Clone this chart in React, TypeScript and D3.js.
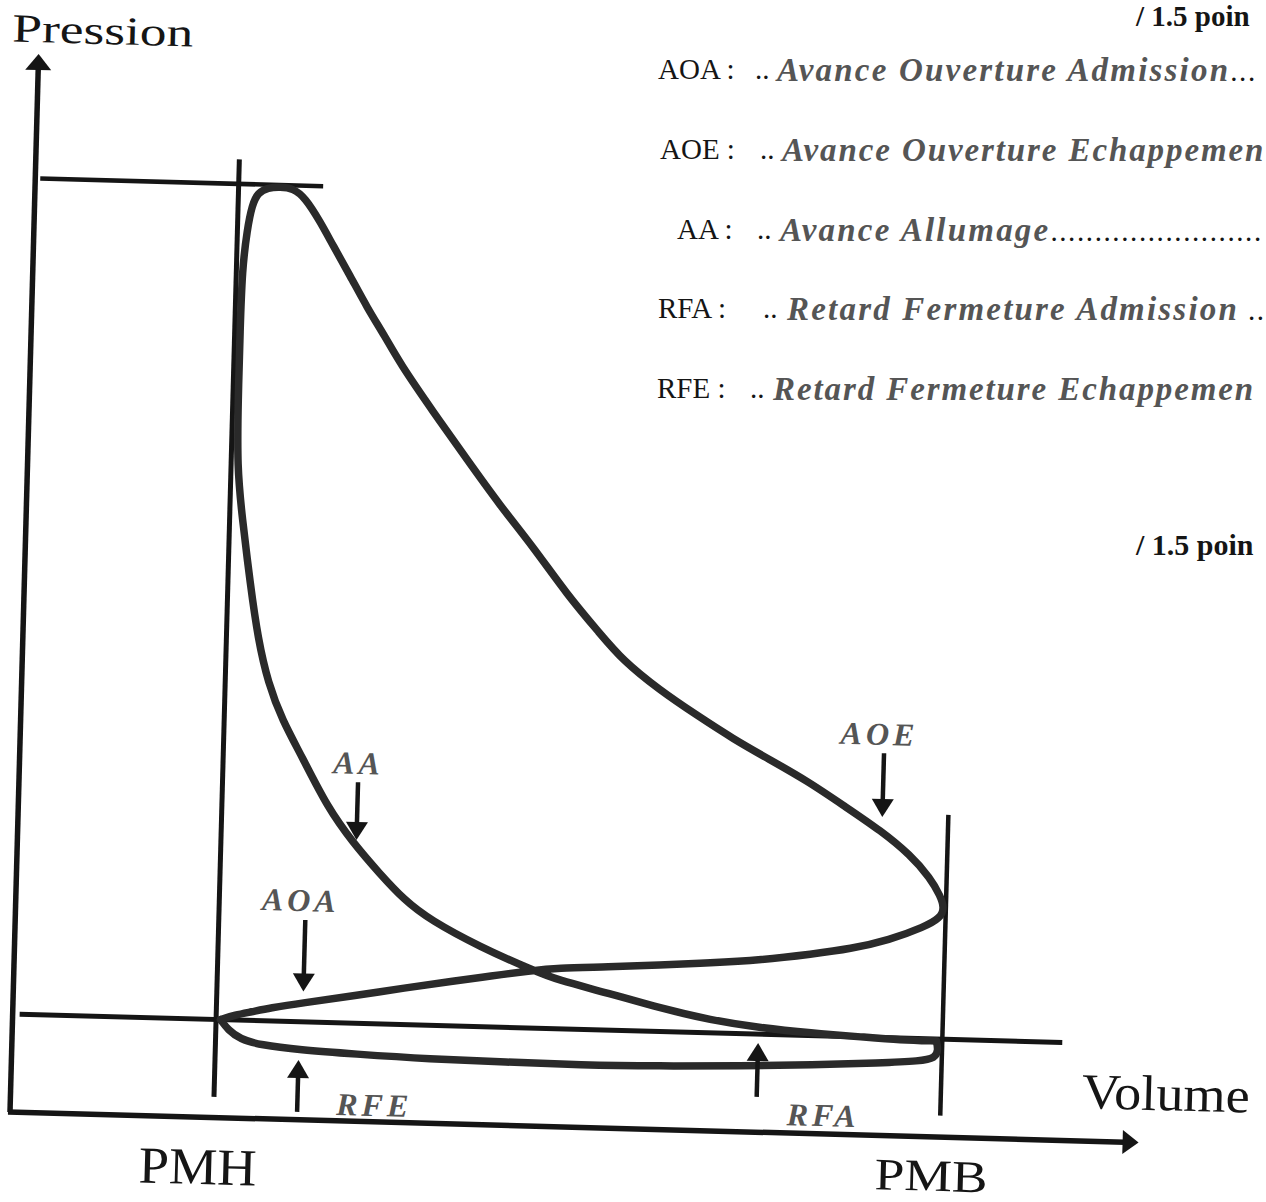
import React from "react";
import * as d3 from "d3";

// ---- Data (volume in arbitrary units, pressure in bar) ----
type Pt = [number, number];

const intake: Pt[] = [
  [20.8, 1.0], [21.58, 0.897], [22.8, 0.808], [24.82, 0.753], [28.83, 0.713], [34.14, 0.687],
  [41.86, 0.656], [49.47, 0.647], [56.87, 0.637], [64.78, 0.648], [72.88, 0.671], [80.07, 0.701],
  [86.87, 0.74], [90.86, 0.771], [92.35, 0.806], [92.63, 0.889], [92.41, 0.98],
];

const compression: Pt[] = [
  [92.41, 0.98], [88.81, 0.98], [85.1, 1.0], [79.79, 1.027], [74.87, 1.064], [69.75, 1.132],
  [64.62, 1.24], [59.48, 1.379], [54.34, 1.498], [51.82, 1.593], [46.55, 1.813], [41.48, 2.075],
  [38.83, 2.272], [36.25, 2.541], [33.57, 2.84], [30.88, 3.2], [28.24, 3.703], [26.14, 4.075],
  [24.64, 4.449], [23.53, 4.885], [22.57, 5.464], [21.59, 6.136], [20.96, 6.644], [20.88, 7.33],
  [20.89, 8.04], [20.93, 8.656], [21.32, 9.065], [21.75, 9.322], [22.32, 9.45], [23.3, 9.5],
  [24.49, 9.51],
];

const expansion: Pt[] = [
  [24.49, 9.51], [25.8, 9.5], [27.03, 9.408], [28.6, 9.167], [29.96, 8.926], [31.74, 8.624],
  [33.53, 8.302], [35.41, 8.011], [36.98, 7.74], [40.41, 7.259], [43.94, 6.779], [47.36, 6.319],
  [50.77, 5.909], [54.3, 5.429], [57.71, 5.04], [59.98, 4.781], [63.76, 4.485], [67.53, 4.24],
  [71.29, 4.005], [75.05, 3.801], [78.81, 3.597], [82.57, 3.352], [86.34, 3.107], [89.31, 2.87],
  [91.37, 2.641], [92.42, 2.46], [92.85, 2.339], [92.48, 2.236],
];

const exhaust: Pt[] = [
  [92.48, 2.236], [90.9, 2.14], [87.44, 1.997], [83.56, 1.895], [79.77, 1.833], [74.69, 1.758],
  [69.6, 1.713], [64.5, 1.679], [59.41, 1.644], [54.31, 1.62], [51.62, 1.582], [47.63, 1.52],
  [44.15, 1.459], [39.07, 1.374], [33.99, 1.278], [28.91, 1.193], [25.72, 1.133], [23.83, 1.087],
  [22.24, 1.052], [20.8, 1.0],
];

// reference values
const PMH_V = 20.35;
const PMB_V = 93.0;
const ATM_P = 1.0;
const PMAX_P = 9.53;

// valve-timing markers
const markerLabels = ["AA", "AOA", "AOE", "RFE", "RFA"];
const markerVolume = [33.9, 29.0, 86.4, 28.7, 74.6];
const markerFrom = [3.46, 2.04, 3.9, 0.08, 0.36];
const markerTo = [2.87, 1.31, 3.25, 0.61, 0.91];
const labelVolume = [33.9, 28.5, 85.9, 36.4, 81.3];
const labelPressure = [3.545, 2.13, 3.985, 0.06, 0.08];

// legend
const legendAbbr = ["AOA :", "AOE :", "AA :", "RFA :", "RFE :"];
const legendMeaning = [
  "Avance Ouverture Admission",
  "Avance Ouverture Echappemen",
  "Avance Allumage",
  "Retard Fermeture Admission",
  "Retard Fermeture Echappemen",
];
const legendTrail = ["...", "", "........................", " ..", ""];
const pointsText = "/ 1.5 poin";

const W = 1266;
const H = 1202;
const SERIF = "'Liberation Serif', 'Times New Roman', serif";

export default function App() {
  const x = d3.scaleLinear().domain([0, 112.9]).range([0, 1129]);
  const y = d3.scaleLinear().domain([0, 10.8]).range([0, -1058.4]);

  const line = d3
    .line<Pt>()
    .x((d) => x(d[0]))
    .y((d) => y(d[1]))
    .curve(d3.curveBasis);

  const mainLoop = [...compression, ...expansion.slice(1), ...exhaust.slice(1)];

  const ink = "#151515";
  const curveInk = "#2a2a2a";
  const labelInk = "#555";

  const arrow = (v: number, p0: number, p1: number, key: string) => {
    const xs = x(v);
    const y0 = y(p0);
    const y1 = y(p1);
    const dir = y1 > y0 ? 1 : -1;
    const headLen = 18;
    const headHalf = 11;
    const base = y1 - dir * headLen;
    return (
      <g key={key}>
        <line x1={xs} y1={y0} x2={xs} y2={base + dir * 2} stroke={ink} strokeWidth={4.5} />
        <path d={`M${xs - headHalf},${base} L${xs + headHalf},${base} L${xs},${y1} Z`} fill={ink} />
      </g>
    );
  };

  // legend layout
  const rowBase = [79, 159, 239, 318, 398];
  const abbrX = [658, 660, 677, 658, 657];
  const dotsX = [755, 760, 757, 763, 750];
  const italicX = [777, 782, 780, 787, 773];
  const italicSpacing = [2.2, 1.9, 2.2, 2.2, 1.9];

  return (
    <svg
      width={W}
      height={H}
      viewBox={`0 0 ${W} ${H}`}
      style={{ position: "absolute", left: 0, top: 0, background: "#fff" }}
    >
      <rect x={0} y={0} width={W} height={H} fill="#fff" />

      {/* Legend (right) */}
      <g fontFamily={SERIF}>
        <text x={1136} y={26} fontSize={29} fontWeight="bold" fill={ink}>
          {pointsText}
        </text>
        {legendAbbr.map((a, i) => (
          <g key={a}>
            <text x={abbrX[i]} y={rowBase[i]} fontSize={29} fill={ink}>
              {a}
            </text>
            <text x={dotsX[i]} y={rowBase[i]} fontSize={29} fill={ink}>
              ..
            </text>
            <text
              x={italicX[i]}
              y={rowBase[i] + 2}
              fontSize={33}
              fontWeight="bold"
              fontStyle="italic"
              letterSpacing={italicSpacing[i]}
              fill={labelInk}
            >
              {legendMeaning[i]}
              {legendTrail[i] ? (
                <tspan fontSize={29} fontWeight="normal" fontStyle="normal" fill={ink} letterSpacing={1.6}>
                  {legendTrail[i]}
                </tspan>
              ) : null}
            </text>
          </g>
        ))}
        <text x={1136} y={555} fontSize={30} fontWeight="bold" fill={ink}>
          {pointsText}
        </text>
      </g>

      {/* Diagram (slightly rotated like the scanned page) */}
      <g transform="translate(10,1112) rotate(1.55)">
        {/* axes */}
        <line x1={x(0)} y1={y(0)} x2={x(0)} y2={y(10.8) + 14} stroke={ink} strokeWidth={5.5} />
        <path
          d={`M${x(0) - 13},${y(10.8) + 16} L${x(0) + 13},${y(10.8) + 16} L${x(0)},${y(10.8)} Z`}
          fill={ink}
        />
        <line x1={x(-0.2)} y1={y(0)} x2={x(112.9) - 14} y2={y(0)} stroke={ink} strokeWidth={5.5} />
        <path
          d={`M${x(112.9) - 16},${y(0) - 12} L${x(112.9) - 16},${y(0) + 12} L${x(112.9)},${y(0)} Z`}
          fill={ink}
        />

        {/* reference lines */}
        <line x1={x(0.7)} y1={y(ATM_P)} x2={x(105)} y2={y(ATM_P)} stroke={ink} strokeWidth={5} />
        <line x1={x(0.5)} y1={y(PMAX_P)} x2={x(28.8)} y2={y(PMAX_P)} stroke={ink} strokeWidth={4.5} />
        <line x1={x(PMH_V)} y1={y(0.21)} x2={x(PMH_V)} y2={y(9.78)} stroke={ink} strokeWidth={5} />
        <line x1={x(PMB_V)} y1={y(0.22)} x2={x(PMB_V)} y2={y(3.29)} stroke={ink} strokeWidth={4.5} />

        {/* cycle */}
        <path d={line(intake) ?? ""} fill="none" stroke={curveInk} strokeWidth={7.5} strokeLinejoin="round" strokeLinecap="round" />
        <path d={line(mainLoop) ?? ""} fill="none" stroke={curveInk} strokeWidth={7.5} strokeLinejoin="round" strokeLinecap="round" />

        {/* markers */}
        {markerLabels.map((m, i) => arrow(markerVolume[i], markerFrom[i], markerTo[i], m))}
        {markerLabels.map((m, i) => (
          <text
            key={"l" + m}
            x={x(labelVolume[i])}
            y={y(labelPressure[i])}
            textAnchor="middle"
            fontFamily={SERIF}
            fontSize={32}
            fontWeight="bold"
            fontStyle="italic"
            letterSpacing={4}
            fill={labelInk}
          >
            {m}
          </text>
        ))}

        {/* axis titles */}
        <text x={x(-2.69)} y={y(10.92)} fontFamily={SERIF} fontSize={40} fill={ink} textLength={181} lengthAdjust="spacingAndGlyphs">
          Pression
        </text>
        <text x={x(107.1)} y={y(0.336)} fontFamily={SERIF} fontSize={50} fill={ink} textLength={168} lengthAdjust="spacingAndGlyphs">
          Volume
        </text>
        <text x={x(18.9) - 59} y={y(-0.683)} fontFamily={SERIF} fontSize={52} fill={ink} textLength={118} lengthAdjust="spacingAndGlyphs">
          PMH
        </text>
        <text x={x(92.2) - 56} y={y(-0.55)} fontFamily={SERIF} fontSize={45} fill={ink} textLength={113} lengthAdjust="spacingAndGlyphs">
          PMB
        </text>
      </g>
    </svg>
  );
}
